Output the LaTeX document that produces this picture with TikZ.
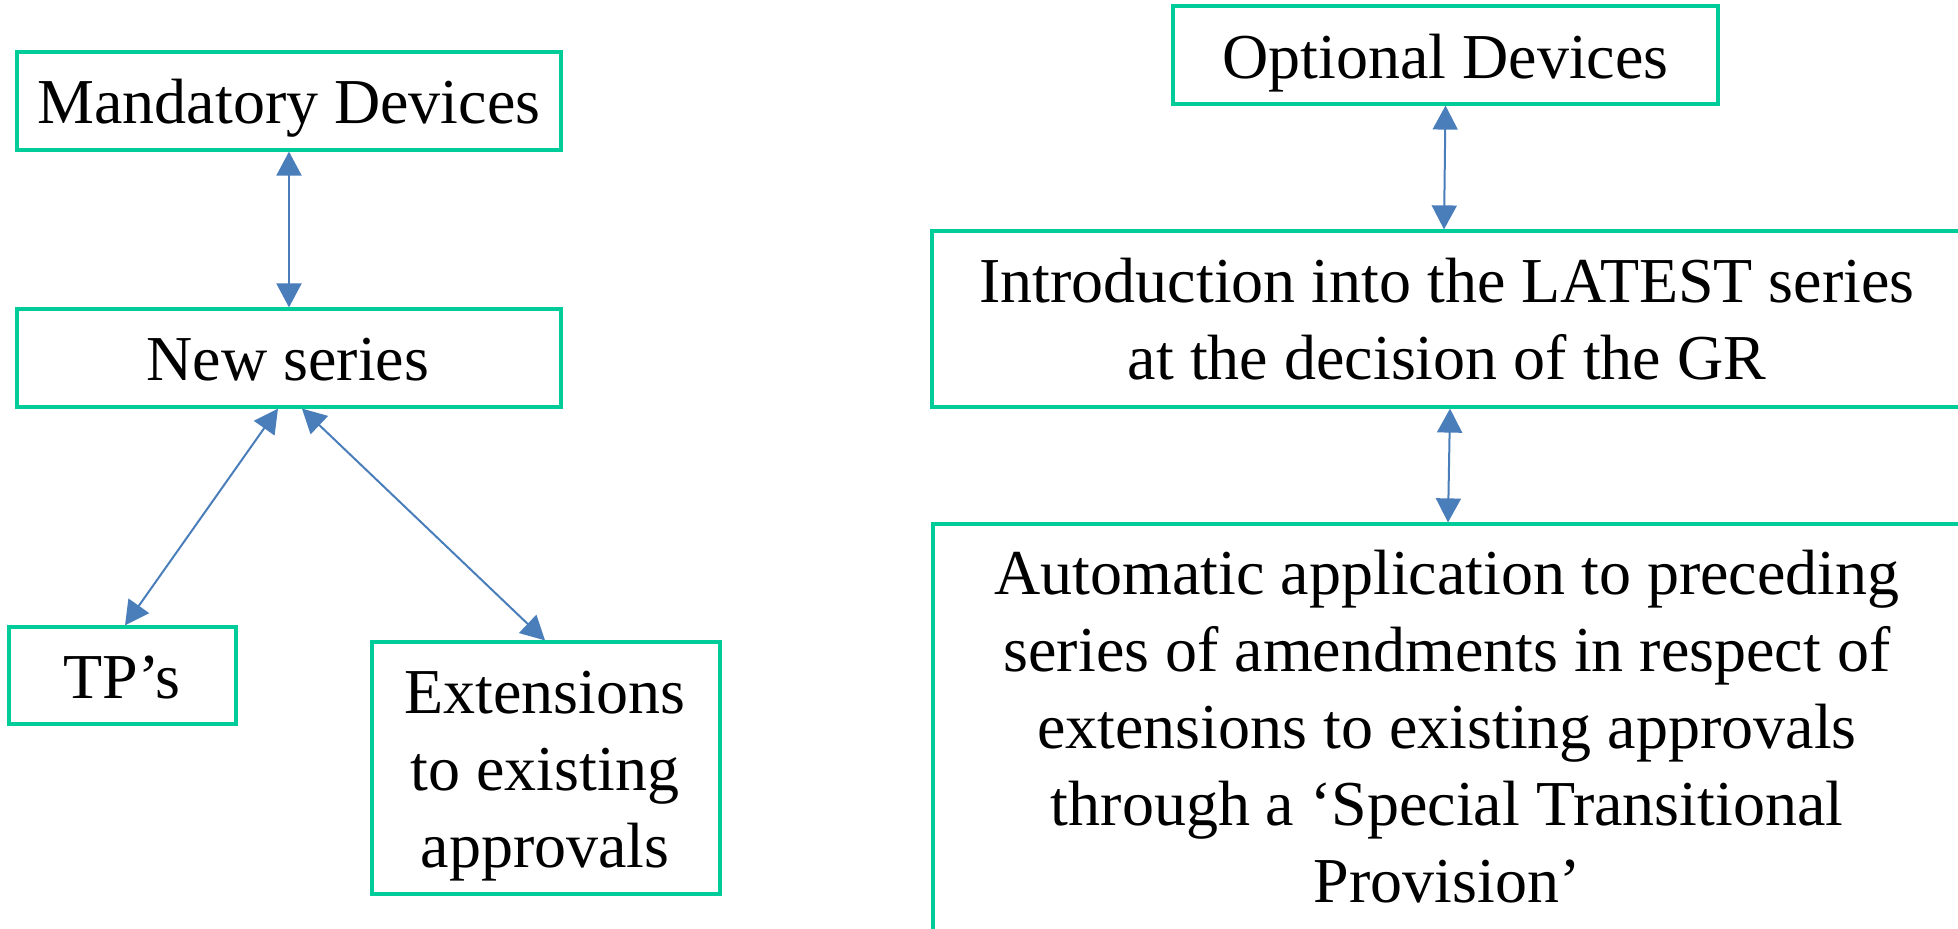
\documentclass[tikz,border=0pt]{standalone}
\usepackage{fontspec}
\setmainfont{Liberation Serif}
\usetikzlibrary{arrows.meta}
\definecolor{boxgreen}{RGB}{0,204,153}
\definecolor{arrowblue}{RGB}{74,126,187}
\begin{document}
\begin{tikzpicture}[x=0.5pt,y=-0.5pt,
  box/.style={draw=boxgreen, line width=1.6pt, rectangle, inner sep=0pt},
  txt/.style={inner sep=0pt, anchor=base, align=center, font=\fontsize{32}{38.5}\selectfont},
  conn/.style={draw=arrowblue, line width=1pt, {Triangle[length=12pt,width=12.5pt]}-{Triangle[length=12pt,width=12.5pt]}}]
\useasboundingbox (0,0) rectangle (1958,929);
\clip (0,0) rectangle (1958,929);
% boxes
\node[box, minimum width=272pt, minimum height=49pt] (mand) at (289,101) {};
\node[box, minimum width=272pt, minimum height=49pt] (new) at (289,358) {};
\node[box, minimum width=113.5pt, minimum height=48.5pt] (tp) at (122.5,675.5) {};
\node[box, minimum width=174pt, minimum height=126pt] (ext) at (546,768) {};
\node[box, minimum width=272.5pt, minimum height=49pt] (opt) at (1445.5,55) {};
\node[box, minimum width=539pt, minimum height=88pt] (introbox) at (1471,319) {};
\node[box, minimum width=538.5pt, minimum height=238pt] (autobox) at (1471.5,762) {};
% texts (base = last line)
\node[txt] (mandt) at (289,124) {Mandatory Devices};
\node[txt] (newt) at (288,381) {New series};
\node[txt] (tpt) at (122,698) {TP’s};
\node[txt] (extt) at (545,867) {Extensions\\to existing\\approvals};
\node[txt] (optt) at (1445.5,79) {Optional Devices};
\node[txt] (introt) at (1447,380) {Introduction into the LATEST series\\at the decision of the GR};
\node[txt] (autot) at (1447,902) {Automatic application to preceding\\series of amendments in respect of\\extensions to existing approvals\\through a ‘Special Transitional\\Provision’};
% connectors
\draw[conn] (mand.south) -- (new.north);
\draw[conn] ([xshift=-5.5pt]new.south) -- ([xshift=1.25pt]tp.north);
\draw[conn] ([xshift=6.5pt]new.south) -- ([xshift=-0.5pt]ext.north);
\draw[conn] (opt.south) -- ([xshift=-13.5pt]introbox.north);
\draw[conn] ([xshift=-10.5pt]introbox.south) -- ([xshift=-11.75pt]autobox.north);
\end{tikzpicture}
\end{document}
